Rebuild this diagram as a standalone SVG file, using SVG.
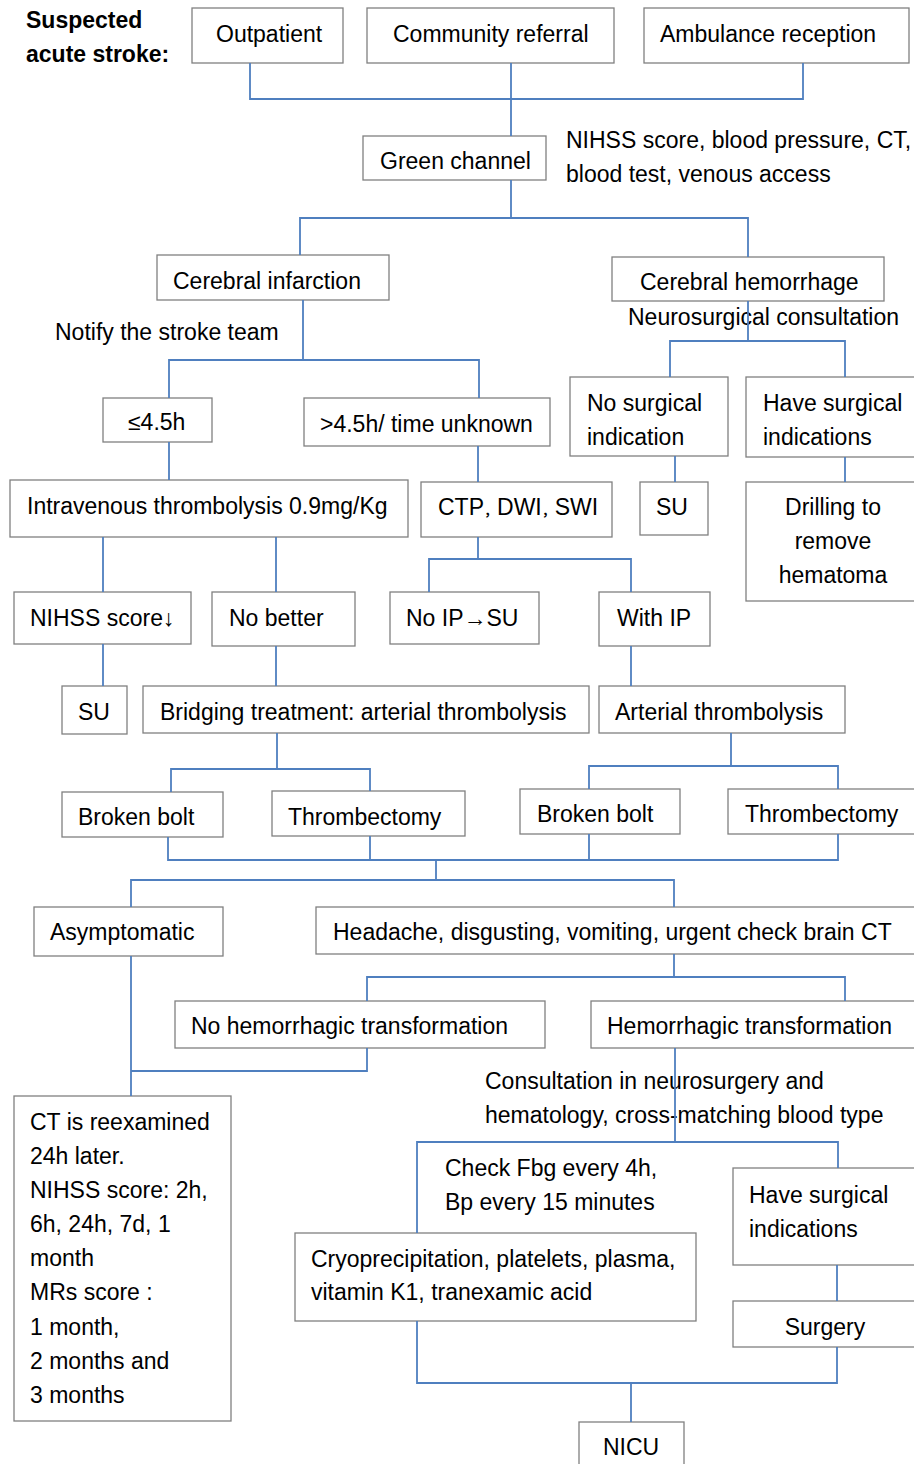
<svg xmlns="http://www.w3.org/2000/svg" width="914" height="1464" viewBox="0 0 914 1464">
<style>
.box{fill:#fff;stroke:#808080;stroke-width:1.3}
.t{font-family:"Liberation Sans",Arial,sans-serif;font-size:23px;fill:#000}
.b{font-family:"Liberation Sans",Arial,sans-serif;font-size:23px;font-weight:bold;fill:#000}
.m{text-anchor:middle}
.c{fill:none;stroke:#4f7fbf;stroke-width:1.8}
.cj{font-family:"Noto Sans CJK SC",sans-serif;font-size:13px;font-weight:bold}
</style>
<rect width="914" height="1464" fill="#fff"/>
<g id="title"><text class="b" x="26" y="28">Suspected</text><text class="b" x="26" y="62">acute stroke:</text></g>
<g id="outpatient"><rect class="box" x="192" y="8" width="151" height="55"/><text class="t" x="216" y="42">Outpatient</text></g>
<g id="community"><rect class="box" x="367" y="8" width="247" height="55"/><text class="t" x="393" y="42">Community referral</text></g>
<g id="ambulance"><rect class="box" x="644" y="8" width="265" height="55"/><text class="t" x="660" y="42">Ambulance reception</text></g>
<g id="green"><rect class="box" x="363" y="136" width="183" height="44"/><text class="t" x="380" y="169">Green channel</text></g>
<g id="green-note"><text class="t" x="566" y="148">NIHSS score, blood pressure, CT,</text><text class="t" x="566" y="182">blood test, venous access</text></g>
<g id="infarction"><rect class="box" x="157" y="255" width="232" height="45"/><text class="t" x="173" y="289">Cerebral infarction</text></g>
<g id="hemorrhage"><rect class="box" x="612" y="257" width="272" height="44"/><text class="t" x="640" y="290">Cerebral hemorrhage</text></g>
<g id="notify"><text class="t" x="55" y="340">Notify the stroke team</text></g>
<g id="neuro"><text class="t" x="628" y="325">Neurosurgical consultation</text></g>
<g id="le45"><rect class="box" x="103" y="398" width="109" height="44"/><text class="t" x="128" y="430">≤4.5h</text></g>
<g id="gt45"><rect class="box" x="304" y="398" width="246" height="48"/><text class="t" x="320" y="432">&gt;4.5h/ time unknown</text></g>
<g id="nosurg"><rect class="box" x="570" y="377" width="158" height="79"/><text class="t" x="587" y="411">No surgical</text><text class="t" x="587" y="445">indication</text></g>
<g id="havesurg"><rect class="box" x="746" y="377" width="176" height="80"/><text class="t" x="763" y="411">Have surgical</text><text class="t" x="763" y="445">indications</text></g>
<g id="iv"><rect class="box" x="10" y="480" width="398" height="57"/><text class="t" x="27" y="514">Intravenous thrombolysis 0.9mg/Kg</text></g>
<g id="ctp"><rect class="box" x="421" y="482" width="191" height="55"/><text class="t" x="438" y="515">CTP<tspan class="cj">，</tspan>DWI<tspan class="cj">，</tspan>SWI</text></g>
<g id="su1"><rect class="box" x="640" y="482" width="68" height="53"/><text class="t" x="656" y="515">SU</text></g>
<g id="drill"><rect class="box" x="746" y="482" width="176" height="119"/><text class="t m" x="833" y="515">Drilling to</text><text class="t m" x="833" y="549">remove</text><text class="t m" x="833" y="583">hematoma</text></g>
<g id="nihss"><rect class="box" x="14" y="592" width="177" height="52"/><text class="t" x="30" y="626">NIHSS score↓</text></g>
<g id="nobetter"><rect class="box" x="212" y="592" width="143" height="54"/><text class="t" x="229" y="626">No better</text></g>
<g id="noip"><rect class="box" x="390" y="592" width="149" height="52"/><text class="t" x="406" y="626">No IP→SU</text></g>
<g id="withip"><rect class="box" x="599" y="592" width="111" height="54"/><text class="t" x="617" y="626">With IP</text></g>
<g id="su2"><rect class="box" x="62" y="686" width="65" height="48"/><text class="t" x="78" y="720">SU</text></g>
<g id="bridging"><rect class="box" x="143" y="686" width="446" height="47"/><text class="t" x="160" y="720">Bridging treatment: arterial thrombolysis</text></g>
<g id="arterial"><rect class="box" x="599" y="686" width="246" height="47"/><text class="t" x="615" y="720">Arterial thrombolysis</text></g>
<g id="bolt1"><rect class="box" x="62" y="792" width="161" height="45"/><text class="t" x="78" y="825">Broken bolt</text></g>
<g id="thromb1"><rect class="box" x="272" y="791" width="193" height="45"/><text class="t" x="288" y="825">Thrombectomy</text></g>
<g id="bolt2"><rect class="box" x="520" y="789" width="160" height="45"/><text class="t" x="537" y="822">Broken bolt</text></g>
<g id="thromb2"><rect class="box" x="728" y="789" width="194" height="45"/><text class="t" x="745" y="822">Thrombectomy</text></g>
<g id="asym"><rect class="box" x="34" y="907" width="189" height="49"/><text class="t" x="50" y="940">Asymptomatic</text></g>
<g id="headache"><rect class="box" x="316" y="907" width="606" height="47"/><text class="t" x="333" y="940">Headache, disgusting, vomiting, urgent check brain CT</text></g>
<g id="nohemo"><rect class="box" x="175" y="1001" width="370" height="47"/><text class="t" x="191" y="1034">No hemorrhagic transformation</text></g>
<g id="hemo"><rect class="box" x="591" y="1001" width="331" height="47"/><text class="t" x="607" y="1034">Hemorrhagic transformation</text></g>
<g id="ct"><rect class="box" x="14" y="1096" width="217" height="325"/>
<text class="t" x="30" y="1130">CT is reexamined</text><text class="t" x="30" y="1164">24h later.</text><text class="t" x="30" y="1198">NIHSS score: 2h,</text><text class="t" x="30" y="1232">6h, 24h, 7d, 1</text><text class="t" x="30" y="1266">month</text><text class="t" x="30" y="1300">MRs score :</text><text class="t" x="30" y="1335">1 month,</text><text class="t" x="30" y="1369">2 months and</text><text class="t" x="30" y="1403">3 months</text></g>
<g id="consult"><text class="t" x="485" y="1089">Consultation in neurosurgery and</text><text class="t" x="485" y="1123">hematology, cross-matching blood type</text></g>
<g id="fbg"><text class="t" x="445" y="1176">Check Fbg every 4h,</text><text class="t" x="445" y="1210">Bp every 15 minutes</text></g>
<g id="havesurg2"><rect class="box" x="733" y="1168" width="189" height="97"/><text class="t" x="749" y="1203">Have surgical</text><text class="t" x="749" y="1237">indications</text></g>
<g id="cryo"><rect class="box" x="295" y="1233" width="401" height="88"/><text class="t" x="311" y="1267">Cryoprecipitation, platelets, plasma,</text><text class="t" x="311" y="1300">vitamin K1, tranexamic acid</text></g>
<g id="surgery"><rect class="box" x="733" y="1301" width="189" height="46"/><text class="t m" x="825" y="1335">Surgery</text></g>
<g id="nicu"><rect class="box" x="579" y="1422" width="105" height="50"/><text class="t m" x="631" y="1455">NICU</text></g>
<g id="connectors">
<path class="c" d="M250,63V99H803V63M511,63V136"/>
<path class="c" d="M511,180V218M300,255V218H748V257"/>
<path class="c" d="M303,300V360M169,398V360H479V398"/>
<path class="c" d="M748,301V341M670,377V341H845V377"/>
<path class="c" d="M169,442V480M478,446V482M675,456V482M845,457V482"/>
<path class="c" d="M103,537V592M276,537V592M478,537V559M429,592V559H631V592"/>
<path class="c" d="M103,644V686M276,646V686M631,646V686"/>
<path class="c" d="M277,733V769M171,792V769H370V791M731,733V766M589,789V766H838V789"/>
<path class="c" d="M168,837V860H838V834M370,836V860M589,834V860M436,860V880M131,907V880H674V907"/>
<path class="c" d="M131,956V1096M674,954V977M367,1001V977H845V1001"/>
<path class="c" d="M367,1048V1071H131M675,1048V1142M417,1233V1142H838V1168"/>
<path class="c" d="M837,1265V1301M417,1321V1383H837V1347M631,1383V1422"/>
</g>
</svg>
